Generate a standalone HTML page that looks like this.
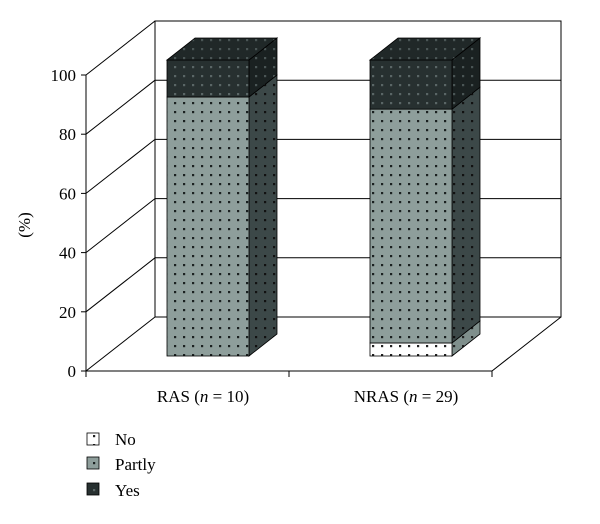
<!DOCTYPE html>
<html><head><meta charset="utf-8"><style>
body{margin:0;background:#fff}
svg{display:block;font-family:"Liberation Serif",serif}
</style></head><body>
<svg width="600" height="524" viewBox="0 0 600 524">
<defs>
<pattern id="pNo" width="9" height="9" patternUnits="userSpaceOnUse"><rect width="9" height="9" fill="#fff"/><rect x="3" y="3" width="2.2" height="2.2" fill="#222"/></pattern>
<pattern id="pNoS" width="9" height="9" patternUnits="userSpaceOnUse"><rect width="9" height="9" fill="#7f8f8c"/><rect x="3" y="3" width="2.2" height="2.2" fill="#222"/></pattern>
<pattern id="pPartly" width="9" height="9" patternUnits="userSpaceOnUse"><rect width="9" height="9" fill="#8e9e9b"/><rect x="3" y="3" width="2.2" height="2.2" fill="#1a2020"/></pattern>
<pattern id="pPartlyS" width="9" height="9" patternUnits="userSpaceOnUse"><rect width="9" height="9" fill="#3c4848"/><rect x="3" y="3" width="2.2" height="2.2" fill="#111"/></pattern>
<pattern id="pYes" width="9" height="9" patternUnits="userSpaceOnUse"><rect width="9" height="9" fill="#273030"/><rect x="3" y="3" width="2.2" height="2.2" fill="#5a6666"/></pattern>
<pattern id="pYesS" width="9" height="9" patternUnits="userSpaceOnUse"><rect width="9" height="9" fill="#1a2121"/><rect x="3" y="3" width="2.2" height="2.2" fill="#4a5555"/></pattern>
<pattern id="pYesT" width="9" height="9" patternUnits="userSpaceOnUse"><rect width="9" height="9" fill="#202828"/><rect x="3" y="3" width="2.2" height="2.2" fill="#4a5555"/></pattern>
</defs>
<g id="chart"></g>
<text x="30" y="225" transform="rotate(-90 30 225)" text-anchor="middle" font-size="17">(%)</text>
<g>
<rect x="87" y="433" width="12" height="12" fill="url(#pNo)" stroke="#000" stroke-width="0.8"/>
<text x="115" y="445" font-size="17">No</text>
<rect x="87" y="457" width="12" height="12" fill="url(#pPartly)" stroke="#000" stroke-width="0.8"/>
<text x="115" y="470" font-size="17">Partly</text>
<rect x="87" y="483" width="12" height="12" fill="url(#pYes)" stroke="#000" stroke-width="0.8"/>
<text x="115" y="496" font-size="17">Yes</text>
</g>
</svg>
<script>
const categories = ["RAS", "NRAS"];
const catN = ["10", "29"];
const noVals = [0, 4.4];
const partlyVals = [87.5, 79];
const yesVals = [12.5, 16.6];
const yTicks = [0, 20, 40, 60, 80, 100];

const NS = "http://www.w3.org/2000/svg";
const g = document.getElementById("chart");
function mk(tag, attrs, parent) {
  const e = document.createElementNS(NS, tag);
  for (const k in attrs) e.setAttribute(k, attrs[k]);
  (parent || g).appendChild(e);
  return e;
}
// axes geometry
const fx0 = 86, fx1 = 492, fy0 = 371, dx = 69, dy = -54;
const axisScale = (371 - 75) / 100;
const yFront = v => fy0 - v * axisScale;
const barScale = 296 / 100, barBase = 356;
const yBar = v => barBase - v * barScale;
const xCenter = i => 208 + i * 203;
const barW = 82, bdx = 28, bdy = -22;

// back wall and side wall gridlines
yTicks.forEach(t => {
  const y = yFront(t);
  let l = mk("line", {x1: fx0, y1: y, x2: fx0 + dx, y2: y + dy, stroke: "#000", "stroke-width": 1});
  
  
  if (t > 0) {
    l = mk("line", {x1: fx0 + dx, y1: y + dy, x2: fx1 + dx, y2: y + dy, stroke: "#000", "stroke-width": 1});
    
    
  }
  const tk = mk("line", {x1: fx0 - 5, y1: y, x2: fx0, y2: y, stroke: "#000"});
  
  
  const tx = mk("text", {x: fx0 - 10, y: y + 6, "text-anchor": "end", "font-size": 17});
  tx.textContent = t;
  
  
});
let bw = mk("polyline", {points: `${fx0+dx},${fy0+dy} ${fx1+dx},${fy0+dy} ${fx1+dx},${yFront(100)+dy} ${fx0+dx},${yFront(100)+dy} ${fx0+dx},${fy0+dy}`, fill: "none", stroke: "#000"});


let fl = mk("polyline", {points: `${fx0},${fy0} ${fx1},${fy0} ${fx1+dx},${fy0+dy}`, fill: "none", stroke: "#000"});


let ya = mk("line", {x1: fx0, y1: fy0, x2: fx0, y2: yFront(100), stroke: "#000"});


[fx0, (fx0 + fx1) / 2, fx1].forEach(x => {
  const t = mk("line", {x1: x, y1: fy0, x2: x, y2: fy0 + 6, stroke: "#000"});
  
  
});

// bars
categories.forEach((c, i) => {
  const x0 = xCenter(i) - barW / 2, x1 = x0 + barW;
  const segs = [[noVals[i], "pNo", "pNoS", "no"], [partlyVals[i], "pPartly", "pPartlyS", "partly"], [yesVals[i], "pYes", "pYesS", "yes"]];
  let acc = 0;
  segs.forEach((s, k) => {
    const v = s[0];
    if (v <= 0) return;
    const yb = yBar(acc), yt = yBar(acc + v);
    const side = mk("polygon", {points: `${x1},${yb} ${x1+bdx},${yb+bdy} ${x1+bdx},${yt+bdy} ${x1},${yt}`, fill: `url(#${s[2]})`, stroke: "#000", "stroke-width": 0.8});
    
    
    const r = mk("rect", {x: x0, y: yt, width: barW, height: yb - yt, fill: `url(#${s[1]})`, stroke: "#000", "stroke-width": 0.8});
    
    
    acc += v;
  });
  const yt = yBar(acc);
  const top = mk("polygon", {points: `${x0},${yt} ${x1},${yt} ${x1+bdx},${yt+bdy} ${x0+bdx},${yt+bdy}`, fill: "url(#pYesT)", stroke: "#000", "stroke-width": 0.8});
  
  
  const lab = mk("text", {x: xCenter(i) - 5, y: 402, "text-anchor": "middle", "font-size": 17});
  lab.innerHTML = `${c} (<tspan font-style="italic">n</tspan> = ${catN[i]})`;
  
  
});
</script>
</body></html>
